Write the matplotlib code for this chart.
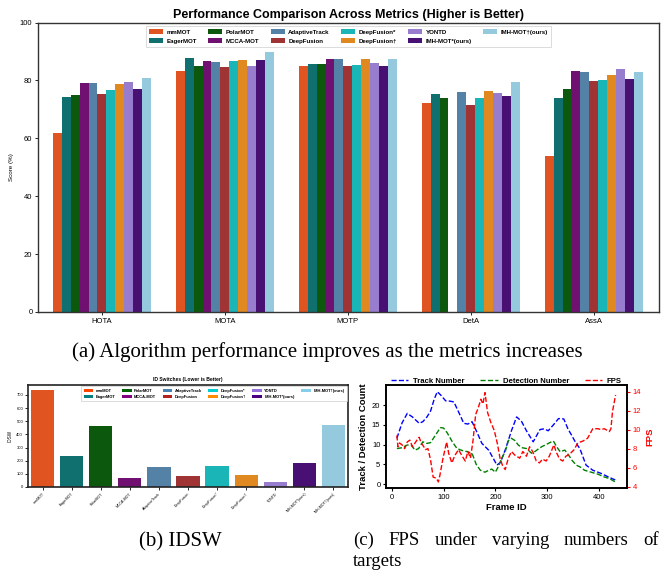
import colorsys
import numpy as np
import matplotlib
matplotlib.use("Agg")
import matplotlib.pyplot as plt
from matplotlib.colors import to_rgb
from matplotlib.patches import Patch
from matplotlib.lines import Line2D

plt.rcParams['font.family'] = ['Liberation Sans', 'DejaVu Sans']

# ---------------- data ----------------
methods = ["mmMOT", "EagerMOT", "PolarMOT", "MCCA-MOT", "AdaptiveTrack", "DeepFusion",
           "DeepFusion*", "DeepFusion†", "YONTD", "IMH-MOT*(ours)", "IMH-MOT†(ours)"]
base_colors = ["orangered", "teal", "darkgreen", "purple", "steelblue", "firebrick",
               "darkturquoise", "darkorange", "mediumpurple", "indigo", "skyblue"]
metrics = ["HOTA", "MOTA", "MOTP", "DetA", "AssA"]

mmMOT = [61.8, 83.3, 85.0, 72.3, 54.0]
EagerMOT = [74.2, 87.7, 85.7, 75.4, 74.0]
PolarMOT = [75.0, 84.9, 85.7, 74.0, 77.1]
MCCA_MOT = [79.1, 86.8, 87.5, 0.0, 83.3]
AdaptiveTrack = [79.1, 86.4, 87.5, 76.1, 83.0]
DeepFusion = [75.4, 84.6, 85.0, 71.5, 79.9]
DeepFusion_star = [76.8, 86.8, 85.4, 74.0, 80.2]
DeepFusion_dag = [78.8, 87.2, 87.5, 76.4, 81.9]
YONTD = [79.5, 85.0, 86.1, 75.7, 84.0]
IMH_star = [77.1, 87.2, 85.0, 74.7, 80.6]
IMH_dag = [80.8, 89.9, 87.5, 79.5, 83.0]
scores = [mmMOT, EagerMOT, PolarMOT, MCCA_MOT, AdaptiveTrack, DeepFusion,
          DeepFusion_star, DeepFusion_dag, YONTD, IMH_star, IMH_dag]

idsw = [738, 239, 466, 65, 149, 81, 156, 88, 35, 179, 474]

frames_track = [10, 20, 30, 40, 53, 60, 68, 75, 82, 88, 95, 104, 113, 120, 130, 139, 147, 155,
                165, 174, 187, 196, 203, 210, 220, 231, 241, 250, 260, 273, 286, 294, 302, 312,
                322, 332, 340, 347, 355, 363, 375, 388, 404, 418, 432]
track = [11.6, 15.5, 17.9, 17.0, 15.4, 15.8, 17.0, 18.5, 21.5, 23.4, 22.5, 21.1, 21.0, 20.8,
         18.0, 15.4, 15.2, 15.8, 13.0, 10.3, 8.6, 6.5, 4.8, 5.5, 9.0, 13.5, 17.0, 16.0, 13.5,
         10.7, 13.8, 14.0, 13.5, 15.0, 16.6, 16.5, 14.0, 12.4, 10.5, 9.0, 4.8, 3.5, 2.7, 1.8, 1.0]

frames_det = [10, 20, 30, 38, 45, 52, 60, 68, 75, 85, 94, 100, 107, 117, 126, 136, 146, 155,
              163, 171, 180, 187, 193, 200, 206, 212, 219, 225, 231, 238, 244, 252, 260, 270,
              277, 283, 290, 298, 305, 312, 318, 325, 334, 341, 348, 356, 364, 372, 385, 398,
              410, 420, 433]
detections = [9.0, 9.2, 9.9, 9.8, 8.6, 9.0, 10.7, 10.3, 10.5, 12.5, 14.3, 14.2, 13.0, 10.7,
              9.0, 8.5, 8.2, 7.8, 5.0, 3.5, 3.0, 3.5, 3.8, 3.0, 4.5, 6.5, 8.2, 11.0, 11.6, 11.0,
              9.9, 9.2, 9.0, 7.8, 8.3, 8.9, 9.5, 10.0, 10.5, 10.9, 9.5, 8.2, 8.6, 7.4, 6.0, 4.8,
              4.3, 3.5, 3.0, 2.5, 1.8, 1.4, 0.4]

frames_fps = [10, 12, 15, 20, 25, 30, 35, 40, 45, 50, 53, 57, 62, 65, 70, 75, 80, 86, 90, 93,
              99, 106, 110, 116, 122, 129, 135, 142, 147, 152, 157, 162, 167, 172, 176, 180,
              185, 191, 198, 204, 209, 214, 219, 225, 231, 238, 247, 253, 260, 266, 272, 279,
              285, 291, 298, 304, 313, 317, 324, 330, 336, 343, 352, 359, 369, 378, 388, 398,
              404, 410, 420, 423, 426, 432]
fps = [9.4, 8.2, 8.6, 8.4, 8.0, 8.7, 8.9, 8.2, 8.6, 9.0, 9.2, 8.6, 8.2, 7.9, 8.0, 6.8, 5.0,
       4.9, 4.5, 5.2, 7.0, 8.7, 7.5, 6.5, 7.3, 7.9, 7.3, 6.7, 7.7, 7.0, 8.9, 11.6, 12.3, 13.2,
       12.7, 13.9, 11.8, 10.8, 9.9, 8.5, 7.0, 6.2, 5.8, 7.0, 7.7, 7.3, 7.0, 7.7, 7.2, 8.2, 7.7,
       6.7, 6.5, 6.9, 6.7, 7.2, 8.4, 7.7, 6.9, 6.7, 7.2, 7.4, 7.9, 8.6, 8.8, 9.1, 10.1, 10.1,
       10.0, 10.1, 9.8, 10.1, 11.9, 13.65]

caption_c_words = ["(c)", "FPS", "under", "varying", "numbers", "of"]


def desat(c, prop=0.75):
    h, l, s = colorsys.rgb_to_hls(*to_rgb(c))
    return colorsys.hls_to_rgb(h, l, s * prop)


bar_colors = [desat(c) for c in base_colors]

W, H = 662, 571
fig = plt.figure(figsize=(W / 100, H / 100), dpi=100)
serif = ['Liberation Serif', 'DejaVu Serif']

# ---------------- (a) ----------------
ax1 = fig.add_axes([38 / W, 1 - 312 / H, 621 / W, 289.5 / H])
x = np.arange(len(metrics))
n = len(methods)
w = 0.8 / n
for i, (vals, col, lab) in enumerate(zip(scores, bar_colors, methods)):
    ax1.bar(x + (i - (n - 1) / 2) * w, vals, width=w, color=col, label=lab, linewidth=0)
ax1.set_xlim(-0.52, 4.53)
ax1.set_ylim(0, 100)
ax1.set_xticks(x)
ax1.set_xticklabels(metrics, fontsize=5.5)
ax1.set_yticks(range(0, 101, 20))
ax1.tick_params(axis='y', labelsize=5.5, length=2.5, width=0.6, pad=1.5)
ax1.tick_params(axis='x', length=2.5, width=0.6, pad=1.5)
ax1.set_ylabel("Score (%)", fontsize=4.5, labelpad=4)
ax1.set_title("Performance Comparison Across Metrics (Higher is Better)",
              fontsize=9, fontweight='bold', pad=3)
for sp in ax1.spines.values():
    sp.set_color('#333333')
    sp.set_linewidth(1.0)
leg1 = ax1.legend(ncol=6, loc='upper center',
                  prop={'weight': 'bold', 'size': 4.4},
                  handlelength=2.3, handleheight=0.9, handletextpad=0.6, columnspacing=1.8,
                  borderpad=0.6, labelspacing=0.5, fancybox=False)
leg1.get_frame().set_edgecolor('#cccccc')
leg1.get_frame().set_linewidth(0.6)

fig.text(327 / W, 1 - 352 / H, "(a) Algorithm performance improves as the metrics increases",
         ha='center', va='center', fontsize=15, family=serif)

# ---------------- (b) ----------------
ax2 = fig.add_axes([28 / W, 1 - 487 / H, 320 / W, 102 / H])
xb = np.arange(n)
ax2.bar(xb, idsw, width=0.8, color=bar_colors, linewidth=0)
ax2.set_xlim(-0.5, n - 0.5)
ax2.set_ylim(0, 775)
ax2.set_xticks(xb)
ax2.set_xticklabels(methods, rotation=45, ha='right', fontsize=2.6, rotation_mode='anchor')
ax2.set_yticks(range(0, 701, 100))
ax2.tick_params(axis='y', labelsize=3.0, length=2, width=0.6, pad=1.5)
ax2.tick_params(axis='x', length=2, width=0.6, pad=1.5)
ax2.set_ylabel("IDSW", fontsize=3.3, labelpad=3)
ax2.set_title("ID Switches (Lower is Better)", fontsize=3.6, fontweight='bold', pad=3)
for sp in ax2.spines.values():
    sp.set_color('#222222')
    sp.set_linewidth(1.2)
handles2 = [Patch(facecolor=c, label=m) for c, m in zip(base_colors, methods)]
leg2 = ax2.legend(handles=handles2, ncol=6, loc='upper right', bbox_to_anchor=(1.0, 1.0),
                  prop={'weight': 'bold', 'size': 2.9}, handlelength=2.4, handleheight=0.9,
                  handletextpad=0.6, columnspacing=1.6, borderpad=0.6, labelspacing=0.5,
                  borderaxespad=0.3, fancybox=False)
leg2.get_frame().set_edgecolor('#cccccc')
leg2.get_frame().set_linewidth(0.6)

fig.text(180 / W, 1 - 546 / H, "(b) IDSW", ha='center', va='baseline', fontsize=15,
         family=serif)

# ---------------- (c) ----------------
ax3 = fig.add_axes([386 / W, 1 - 488 / H, 241 / W, 103 / H])
ax3.plot(frames_track, track, color='blue', ls='--', lw=1.0, label='Track Number')
ax3.plot(frames_det, detections, color='green', ls='--', lw=1.0, label='Detection Number')
ax3.set_xlim(-11, 454)
ax3.set_ylim(-1, 25.1)
ax3.set_xticks([0, 100, 200, 300, 400])
ax3.set_yticks([0, 5, 10, 15, 20])
ax3.tick_params(labelsize=5.5, length=2.5, width=0.8, pad=1.5)
ax3.set_xlabel("Frame ID", fontsize=6.8, fontweight='bold', labelpad=2)
ax3.set_ylabel("Track / Detection Count", fontsize=6.8, fontweight='bold', labelpad=3)
ax4 = ax3.twinx()
ax4.plot(frames_fps, fps, color='red', ls='--', lw=1.0, label='FPS')
ax4.set_ylim(3.86, 14.7)
ax4.set_yticks([4, 6, 8, 10, 12, 14])
ax4.tick_params(axis='y', labelsize=5.5, colors='red', length=2.5, width=0.8, pad=1.5)
ax4.set_ylabel("FPS", fontsize=6.8, fontweight='bold', color='red', labelpad=3)
for a in (ax3, ax4):
    for sp in a.spines.values():
        sp.set_linewidth(1.2)
        sp.set_color('black')
h3 = [Line2D([], [], color='blue', ls='--', lw=1.0),
      Line2D([], [], color='green', ls='--', lw=1.0),
      Line2D([], [], color='red', ls='--', lw=1.0)]
ax3.legend(h3, ['Track Number', 'Detection Number', 'FPS'], ncol=3, loc='lower center',
           bbox_to_anchor=(0.5, 0.97), frameon=False,
           prop={'weight': 'bold', 'size': 5.6}, handlelength=2.2, columnspacing=2.0,
           borderaxespad=0, handletextpad=0.65)

# justified first caption line for (c)
x_start, x_end = 353, 659
word_texts = [fig.text(0, 1 - 545 / H, wd, ha='left', va='baseline', fontsize=13.5,
                       family=serif) for wd in caption_c_words]
fig.canvas.draw()
renderer = fig.canvas.get_renderer()
widths = [t.get_window_extent(renderer).width for t in word_texts]
gap = (x_end - x_start - sum(widths)) / (len(widths) - 1)
pos = x_start
for t, wd in zip(word_texts, widths):
    t.set_x(pos / W)
    pos += wd + gap
fig.text(353 / W, 1 - 566 / H, "targets", ha='left', va='baseline',
         fontsize=13.5, family=serif)

fig.savefig("out.png", dpi=100)
